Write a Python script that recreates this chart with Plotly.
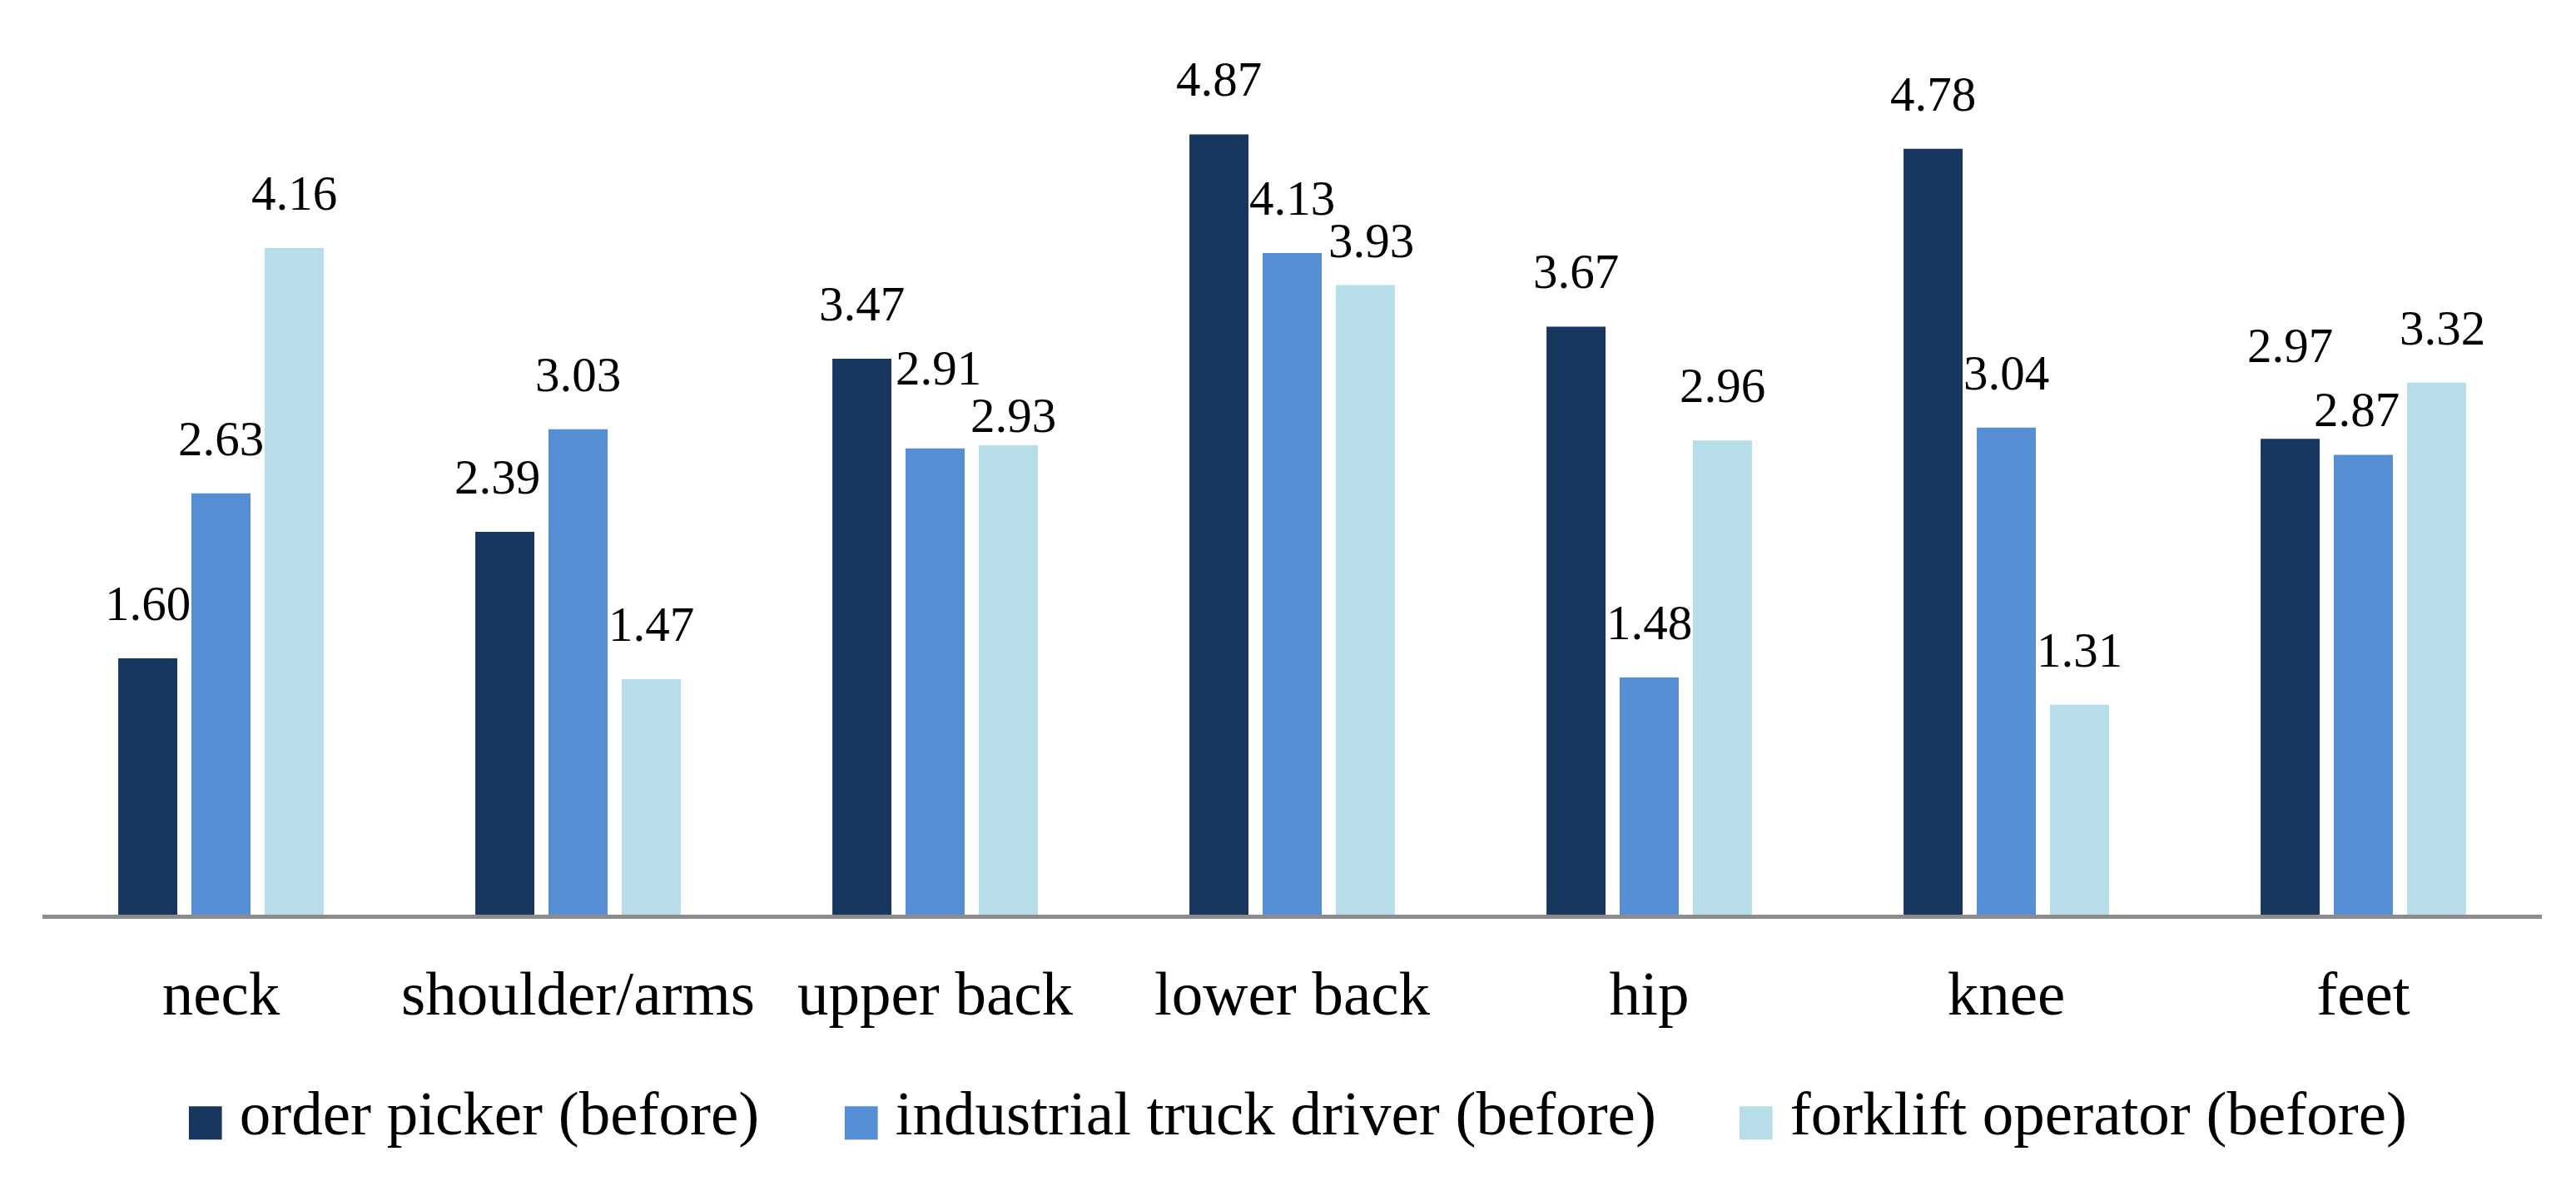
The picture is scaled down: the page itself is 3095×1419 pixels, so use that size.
import plotly.graph_objects as go

# body regions and mean scores per job (before)
categories = ['neck', 'shoulder/arms', 'upper back', 'lower back', 'hip', 'knee', 'feet']
order_picker = [1.60, 2.39, 3.47, 4.87, 3.67, 4.78, 2.97]
truck_driver = [2.63, 3.03, 2.91, 4.13, 1.48, 3.04, 2.87]
forklift_operator = [4.16, 1.47, 2.93, 3.93, 2.96, 1.31, 3.32]

series_names = ['order picker (before)', 'industrial truck driver (before)', 'forklift operator (before)']
series_values = [order_picker, truck_driver, forklift_operator]
colors = ['#17375E', '#558ED5', '#B7DEE8']

FONT = 'Liberation Serif, Times New Roman, serif'
BARGAP = 0.385
GROUPGAP = 0.193
LABEL_SHIFT = 31

# hand-placed labels in the original (pixel nudges: dx, dy up)
label_nudge = {
    (0, 'shoulder/arms'): (-9, 0),
    (1, 'upper back'): (4, 31),
    (2, 'upper back'): (6, -30),
    (2, 'lower back'): (7, -13),
    (0, 'feet'): (0, 46),
    (1, 'feet'): (-8, -12),
    (2, 'feet'): (7, 0),
}

fig = go.Figure()
for name, vals, col in zip(series_names, series_values, colors):
    fig.add_trace(go.Bar(x=categories, y=vals, name=name, marker_color=col,
                         marker_line_width=0, showlegend=False))

# value labels above each bar
slot = (1 - BARGAP) / len(series_values)
for k, vals in enumerate(series_values):
    off = (k - (len(series_values) - 1) / 2) * slot
    for i, v in enumerate(vals):
        dx, dy = label_nudge.get((k, categories[i]), (0, 0))
        fig.add_annotation(x=i + off, y=v, xref='x', yref='y', text=f'{v:.2f}',
                           showarrow=False, yanchor='bottom',
                           xshift=dx, yshift=LABEL_SHIFT + dy,
                           font=dict(family=FONT, size=59, color='black'))

# legend drawn as text items with large square swatches
legend_x = [0.0563, 0.3187, 0.6766]
for name, col, lx in zip(series_names, colors, legend_x):
    fig.add_annotation(x=lx, y=-0.219, xref='paper', yref='paper', xanchor='left',
                       yanchor='middle', showarrow=False,
                       text=f'<span style="color:{col};font-family:DejaVu Sans;font-size:52px">■ </span>{name}',
                       font=dict(family=FONT, size=75, color='black'))

fig.update_layout(
    width=3095, height=1419,
    margin=dict(l=43, r=49, t=0, b=328),
    barmode='group', bargap=BARGAP, bargroupgap=GROUPGAP,
    plot_bgcolor='white', paper_bgcolor='white',
    font=dict(family=FONT, color='black'),
    xaxis=dict(showline=True, linecolor='#8c8c8c', linewidth=5, showgrid=False,
               ticks='', tickfont=dict(family=FONT, size=75, color='black'),
               ticklabelstandoff=25),
    yaxis=dict(range=[0, 5.667], visible=False, showgrid=False, zeroline=False),
)

fig.write_html('out.html')
